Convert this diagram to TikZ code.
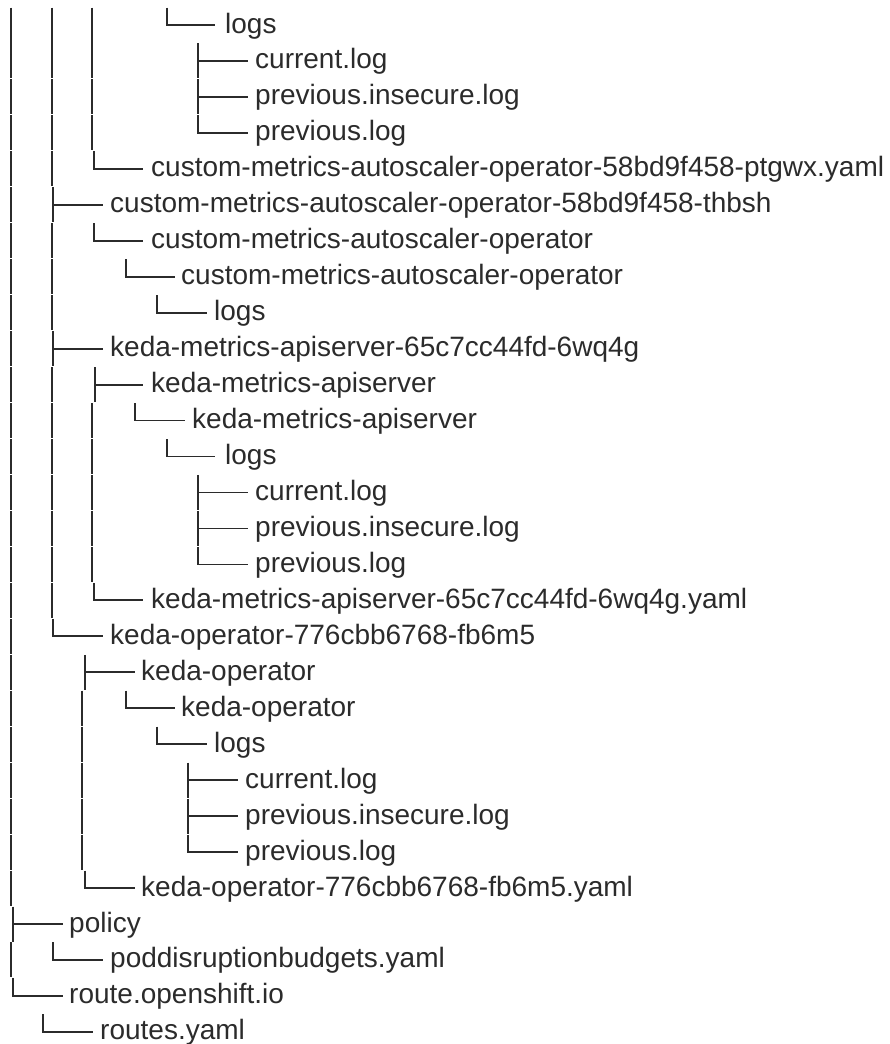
\documentclass[tikz,border=0pt]{standalone}
\usepackage{fontspec}
\setmainfont{Liberation Sans}
\definecolor{ink}{HTML}{2B2B2B}
\newcommand{\rowy}[1]{\pgfmathsetmacro\yc{25+35.96*(#1-1)}}
\newcommand{\vb}[2]{\rowy{#2}\draw[treeline] (#1,\yc-17.5) -- (#1,\yc+17.5);}
\newcommand{\tb}[3]{\rowy{#2}\draw[treeline] (#1,\yc-17.5) -- (#1,\yc+17.5); \draw[treeline] (#1,\yc) -- (#3,\yc);}
\newcommand{\lb}[3]{\rowy{#2}\draw[treeline] (#1,\yc-17.5) -- (#1,\yc) -- (#3,\yc);}
\newcommand{\tx}[4]{\rowy{#2}\node[label text] (#4) at (#1-2,\yc+8) {#3};}
\begin{document}
\begin{tikzpicture}[x=1pt,y=-1pt,
  treeline/.style={draw=ink,line width=1.8pt},
  label text/.style={anchor=base west,inner sep=0pt,text=ink,font=\fontsize{28}{34}\selectfont}]
\useasboundingbox (0,0) rectangle (890,1044);
% row 1
\vb{11}{1}\vb{52}{1}\vb{92}{1}\lb{167}{1}{215}\tx{227}{1}{logs}{r1}
% rows 2-4
\vb{11}{2}\vb{52}{2}\vb{92}{2}\tb{198}{2}{248}\tx{257}{2}{current.log}{r2}
\vb{11}{3}\vb{52}{3}\vb{92}{3}\tb{198}{3}{248}\tx{257}{3}{previous.insecure.log}{r3}
\vb{11}{4}\vb{52}{4}\vb{92}{4}\lb{198}{4}{248}\tx{257}{4}{previous.log}{r4}
% row 5
\vb{11}{5}\vb{52}{5}\lb{94}{5}{143}\tx{153}{5}{custom-metrics-autoscaler-operator-58bd9f458-ptgwx.yaml}{r5}
% row 6
\vb{11}{6}\tb{53}{6}{103}\tx{112}{6}{custom-metrics-autoscaler-operator-58bd9f458-thbsh}{r6}
\vb{11}{7}\vb{52}{7}\lb{94}{7}{143}\tx{153}{7}{custom-metrics-autoscaler-operator}{r7}
\vb{11}{8}\vb{52}{8}\lb{126}{8}{175}\tx{183}{8}{custom-metrics-autoscaler-operator}{r8}
\vb{11}{9}\vb{52}{9}\lb{157}{9}{207}\tx{216}{9}{logs}{r9}
% row 10
\vb{11}{10}\tb{53}{10}{103}\tx{112}{10}{keda-metrics-apiserver-65c7cc44fd-6wq4g}{r10}
\vb{11}{11}\vb{52}{11}\tb{95}{11}{143}\tx{153}{11}{keda-metrics-apiserver}{r11}
\vb{11}{12}\vb{52}{12}\vb{92}{12}\lb{135}{12}{185}\tx{194}{12}{keda-metrics-apiserver}{r12}
\vb{11}{13}\vb{52}{13}\vb{92}{13}\lb{167}{13}{215}\tx{227}{13}{logs}{r13}
\vb{11}{14}\vb{52}{14}\vb{92}{14}\tb{198}{14}{248}\tx{257}{14}{current.log}{r14}
\vb{11}{15}\vb{52}{15}\vb{92}{15}\tb{198}{15}{248}\tx{257}{15}{previous.insecure.log}{r15}
\vb{11}{16}\vb{52}{16}\vb{92}{16}\lb{198}{16}{248}\tx{257}{16}{previous.log}{r16}
\vb{11}{17}\vb{52}{17}\lb{94}{17}{143}\tx{153}{17}{keda-metrics-apiserver-65c7cc44fd-6wq4g.yaml}{r17}
% row 18
\vb{11}{18}\lb{53}{18}{103}\tx{112}{18}{keda-operator-776cbb6768-fb6m5}{r18}
\vb{11}{19}\tb{85}{19}{135}\tx{143}{19}{keda-operator}{r19}
\vb{11}{20}\vb{82}{20}\lb{126}{20}{175}\tx{183}{20}{keda-operator}{r20}
\vb{11}{21}\vb{82}{21}\lb{157}{21}{207}\tx{216}{21}{logs}{r21}
\vb{11}{22}\vb{82}{22}\tb{188}{22}{238}\tx{247}{22}{current.log}{r22}
\vb{11}{23}\vb{82}{23}\tb{188}{23}{238}\tx{247}{23}{previous.insecure.log}{r23}
\vb{11}{24}\vb{82}{24}\lb{188}{24}{238}\tx{247}{24}{previous.log}{r24}
\vb{11}{25}\lb{85}{25}{135}\tx{143}{25}{keda-operator-776cbb6768-fb6m5.yaml}{r25}
% rows 26-29
\tb{13}{26}{63}\tx{71}{26}{policy}{r26}
\vb{11}{27}\lb{53}{27}{103}\tx{112}{27}{poddisruptionbudgets.yaml}{r27}
\lb{13}{28}{63}\tx{71}{28}{route.openshift.io}{r28}
\lb{43}{29}{93}\tx{102}{29}{routes.yaml}{r29}
\end{tikzpicture}
\end{document}
